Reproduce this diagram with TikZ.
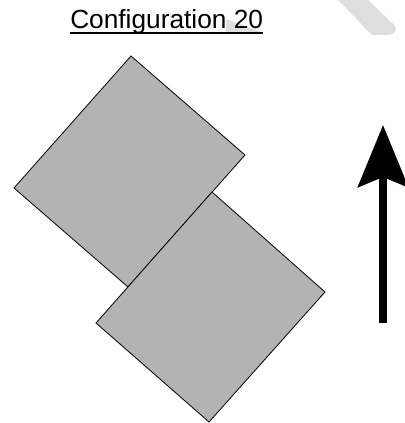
\documentclass[tikz,border=0pt]{standalone}
\usepackage{fontspec}
\setmainfont{Liberation Sans}
\usetikzlibrary{arrows.meta}
\definecolor{panelgray}{RGB}{179,179,179}
\definecolor{markgray}{RGB}{222,222,222}
\tikzset{
	panel/.style={fill=panelgray, draw=black, line width=0.6pt, line join=miter},
	watermark/.style={fill=markgray, draw=none}
}

\begin{document}
\begin{tikzpicture}[x=0.75pt, y=-0.75pt]
	% Frame, watermark and title:
	\useasboundingbox (0,0) rectangle (404,423);
	\fill[watermark] (338,0) -- (368,0) -- (392,23) .. controls (399,29) and (396,34) .. (388,35) -- (372,35) -- cycle;
	\fill[watermark] (226,19) -- (262,32) -- (226,32) -- cycle;
	\node[anchor=base west, inner sep=0pt, font=\fontsize{19.7}{24}\selectfont](title) at (70,29){Configuration 20};
	\draw[line width=1.1pt] ([yshift=-3pt]title.base west) -- ([yshift=-3pt]title.base east);
	% Panels:
	\filldraw[panel] (131,56) -- (245,155) -- (128,287) -- (14,188) -- cycle;
	\filldraw[panel] (212,192) -- (325,292) -- (209,422) -- (96,323) -- cycle;
	% Direction arrow:
	\coordinate (tail) at (383,323);
	\coordinate (head) at (383,125);
	\draw[line width=6pt, -{Stealth[length=46.5pt, width=37.5pt, inset=7.5pt]}] (tail) -- (head);
\end{tikzpicture}
\end{document}
